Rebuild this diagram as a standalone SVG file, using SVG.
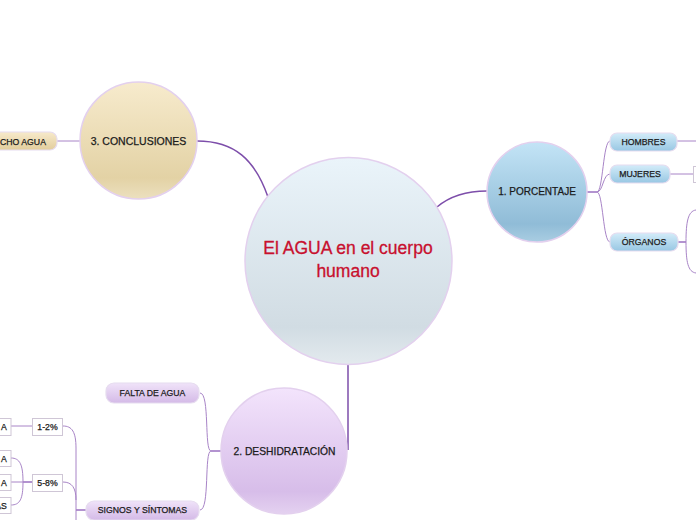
<svg xmlns="http://www.w3.org/2000/svg" width="696" height="520" viewBox="0 0 696 520">
<defs>
<linearGradient id="gCenter" x1="0" y1="0" x2="0" y2="1">
<stop offset="0" stop-color="#eaf4fa"/><stop offset="0.82" stop-color="#d1dce3"/><stop offset="1" stop-color="#e3eaee"/>
</linearGradient>
<linearGradient id="gBlue" x1="0" y1="0" x2="0" y2="1">
<stop offset="0" stop-color="#c3e4f6"/><stop offset="0.82" stop-color="#90bcd7"/><stop offset="1" stop-color="#a9cde2"/>
</linearGradient>
<linearGradient id="gCream" x1="0" y1="0" x2="0" y2="1">
<stop offset="0" stop-color="#f7ebcd"/><stop offset="0.82" stop-color="#e3d2a5"/><stop offset="1" stop-color="#ece0bf"/>
</linearGradient>
<linearGradient id="gLav" x1="0" y1="0" x2="0" y2="1">
<stop offset="0" stop-color="#f3e4fc"/><stop offset="0.82" stop-color="#d7bde9"/><stop offset="1" stop-color="#e4d1f0"/>
</linearGradient>
<linearGradient id="pBlue" x1="0" y1="0" x2="0" y2="1">
<stop offset="0" stop-color="#d3ecf9"/><stop offset="1" stop-color="#98c7e3"/>
</linearGradient>
<linearGradient id="pCream" x1="0" y1="0" x2="0" y2="1">
<stop offset="0" stop-color="#f7eacb"/><stop offset="1" stop-color="#e2cd9c"/>
</linearGradient>
<linearGradient id="pLav" x1="0" y1="0" x2="0" y2="1">
<stop offset="0" stop-color="#f0e3f9"/><stop offset="1" stop-color="#d4bae7"/>
</linearGradient>
</defs>
<style>
.circ{stroke:#e3d0ee;stroke-width:1.5}
.pill{stroke:#e6dcef;stroke-width:1.2}
.box{fill:#ffffff;stroke:#cfc6d6;stroke-width:1}
.t{font-family:"Liberation Sans",Arial,sans-serif;fill:#1a1a1a;stroke:#1a1a1a;stroke-width:0.25;text-anchor:middle;dominant-baseline:central}
.ct{font-family:"Liberation Sans",Arial,sans-serif;font-size:17.5px;fill:#c8102e;stroke:#c8102e;stroke-width:0.3;text-anchor:middle}
.main{fill:none;stroke:#7d4eaa;stroke-width:1.5}
.sub{fill:none;stroke:#a884c7;stroke-width:1}
.subb{fill:none;stroke:#9a6fc0;stroke-width:1.5}
</style>
<g id="connectors">
<path class="main" d="M197,141 C235,141 255,160 268,197"/>
<path class="main" d="M437,207 C450,196 465,191 487,191"/>
<path class="main" d="M348,363 V450"/>
<path class="sub" d="M57,141 H80"/>
<path class="subb" d="M587,192 H597"/>
<path class="sub" d="M597,192 C603,192 603,141 610,141"/>
<path class="sub" d="M597,192 C603,192 603,174 610,174"/>
<path class="sub" d="M597,192 C603,192 603,242 610,242"/>
<path class="sub" d="M677,141 H696"/>
<path class="sub" d="M670,174 H693"/>
<path class="subb" d="M678,242 H686"/>
<path class="sub" d="M686,242 C686,222 688,211 696,210"/>
<path class="sub" d="M686,242 C686,262 688,272 696,273"/>
<path class="subb" d="M221,451 H211"/>
<path class="sub" d="M211,451 C204,451 210,393 200,393"/>
<path class="sub" d="M211,451 C204,451 210,510 200,510"/>
<path class="subb" d="M86,510 H76"/>
<path class="sub" d="M63,426 C72,426 76,432 76,448 V520"/>
<path class="sub" d="M63,482 C72,482 76,488 76,500"/>
<path class="sub" d="M11,426 H32"/>
<path class="subb" d="M23,482 H32"/>
<path class="sub" d="M11,482 H23"/>
<path class="sub" d="M23,482 C23,465 20,458 11,458"/>
<path class="sub" d="M23,482 C23,499 20,505 11,505"/>
</g>
<g id="central">
<circle class="circ" cx="348.5" cy="261" r="103.5" fill="url(#gCenter)"/>
<text class="ct" x="348" y="254">El AGUA en el cuerpo</text>
<text class="ct" x="348" y="277">humano</text>
</g>
<g id="conclusiones">
<circle class="circ" cx="138.5" cy="140.5" r="58.5" fill="url(#gCream)"/>
<text class="t" x="138.5" y="141" font-size="10.5">3. CONCLUSIONES</text>
</g>
<g id="mucho-agua">
<rect class="pill" x="-12" y="132" width="69" height="18" rx="7" fill="url(#pCream)"/>
<text class="t" x="23" y="141.5" font-size="8.7">CHO AGUA</text>
</g>
<g id="porcentaje">
<circle class="circ" cx="537" cy="192" r="50" fill="url(#gBlue)"/>
<text class="t" x="537" y="191.5" font-size="10">1. PORCENTAJE</text>
</g>
<g id="hombres">
<rect class="pill" x="610" y="133" width="67" height="18" rx="7" fill="url(#pBlue)"/>
<text class="t" x="643.5" y="142" font-size="8.7">HOMBRES</text>
</g>
<g id="mujeres">
<rect class="pill" x="610" y="165" width="60" height="18" rx="7" fill="url(#pBlue)"/>
<text class="t" x="640" y="174" font-size="8.7">MUJERES</text>
</g>
<g id="mujeres-child">
<rect class="box" x="693.5" y="166.5" width="12" height="16"/>
</g>
<g id="organos">
<rect class="pill" x="610" y="233" width="68" height="18" rx="7" fill="url(#pBlue)"/>
<text class="t" x="644" y="242" font-size="8.7">ÓRGANOS</text>
</g>
<g id="deshidratacion">
<circle class="circ" cx="284" cy="451" r="63" fill="url(#gLav)"/>
<text class="t" x="284.5" y="451.5" font-size="10.3">2. DESHIDRATACIÓN</text>
</g>
<g id="falta-de-agua">
<rect class="pill" x="106" y="383" width="93" height="20" rx="8" fill="url(#pLav)"/>
<text class="t" x="152.5" y="393" font-size="8.7">FALTA DE AGUA</text>
</g>
<g id="signos">
<rect class="pill" x="86" y="501" width="113" height="19" rx="8" fill="url(#pLav)"/>
<text class="t" x="142.5" y="510" font-size="8.7">SIGNOS Y SÍNTOMAS</text>
</g>
<g id="p12">
<rect class="box" x="32.5" y="418.5" width="30" height="17"/>
<text class="t" x="47.5" y="427" font-size="8.7">1-2%</text>
</g>
<g id="p58">
<rect class="box" x="32.5" y="474.5" width="30" height="17"/>
<text class="t" x="47.5" y="483" font-size="8.7">5-8%</text>
</g>
<g id="leaf1">
<rect class="box" x="-10" y="418.5" width="21" height="17"/>
<text class="t" x="4" y="427" font-size="8.7">A</text>
</g>
<g id="leaf2">
<rect class="box" x="-10" y="450.5" width="21" height="16"/>
<text class="t" x="4" y="458.5" font-size="8.7">A</text>
</g>
<g id="leaf3">
<rect class="box" x="-10" y="474.5" width="21" height="16"/>
<text class="t" x="4" y="482.5" font-size="8.7">A</text>
</g>
<g id="leaf4">
<rect class="box" x="-10" y="497.5" width="21" height="16"/>
<text class="t" x="1" y="505.5" font-size="8.7">AS</text>
</g>
</svg>
